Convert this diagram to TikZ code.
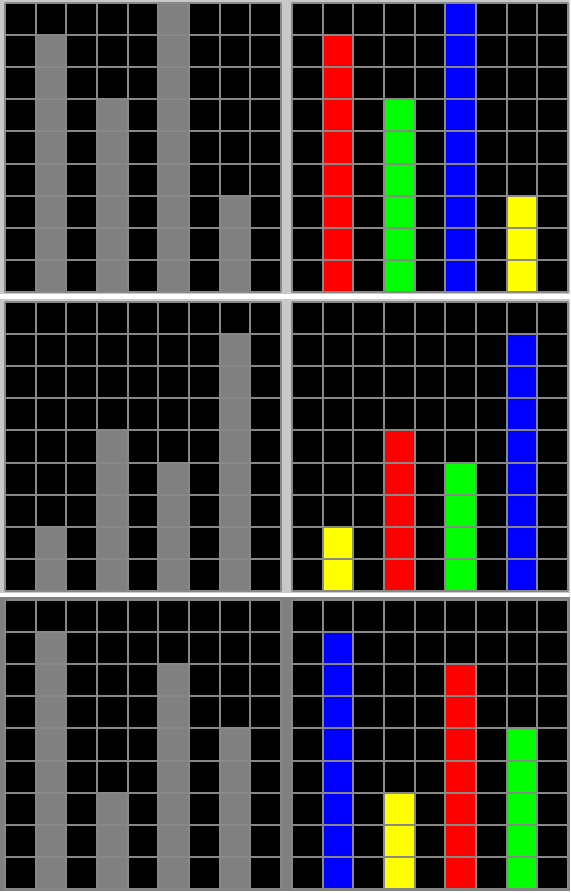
\documentclass[tikz,border=0pt]{standalone}
\usetikzlibrary{calc}
\definecolor{panelbg}{RGB}{200,200,200}
\definecolor{barbg}{RGB}{128,128,128}
\definecolor{lineg}{RGB}{136,136,136}
\definecolor{barred}{RGB}{255,0,0}
\definecolor{bargreen}{RGB}{0,255,0}
\definecolor{barblue}{RGB}{0,0,255}
\definecolor{baryellow}{RGB}{255,255,0}

% one 9x9 board: #1,#2 = top left corner, #3 = list column/height/colour
\newcommand{\board}[3]{%
  \fill[black] (#1,#2) rectangle ++(276,289);
  \foreach \c/\h/\col in {#3}
    \fill[\col] ($(#1,#2)+(\c*30.667,{(9-\h)*32.111})$) rectangle ++(30.667,{\h*32.111});
  \foreach \i in {0,...,9} {
    \draw[gridline] ($(#1,#2)+(\i*30.667,0)$) -- ++(0,289);
    \draw[gridline] ($(#1,#2)+(0,\i*32.111)$) -- ++(276,0);
  }
}

\begin{document}
\begin{tikzpicture}[x=1pt,y=-1pt, gridline/.style={draw=lineg,line width=2pt}]
\useasboundingbox (0,0) rectangle (570,893);
\fill[white] (0,0) rectangle (570,893);
% backgrounds of the three bands
\fill[panelbg] (0,0) rectangle (570,294);
\fill[panelbg] (0,299) rectangle (570,593);
\fill[barbg] (0,597) rectangle (570,891);

% band 1
\board{5}{3}{1/8/barbg,3/6/barbg,5/9/barbg,7/3/barbg}
\board{292}{3}{1/8/barred,3/6/bargreen,5/9/barblue,7/3/baryellow}
% band 2
\board{5}{302}{1/2/barbg,3/5/barbg,5/4/barbg,7/8/barbg}
\board{292}{302}{1/2/baryellow,3/5/barred,5/4/bargreen,7/8/barblue}
% band 3
\board{5}{600}{1/8/barbg,3/3/barbg,5/7/barbg,7/5/barbg}
\board{292}{600}{1/8/barblue,3/3/baryellow,5/7/barred,7/5/bargreen}
\end{tikzpicture}
\end{document}
